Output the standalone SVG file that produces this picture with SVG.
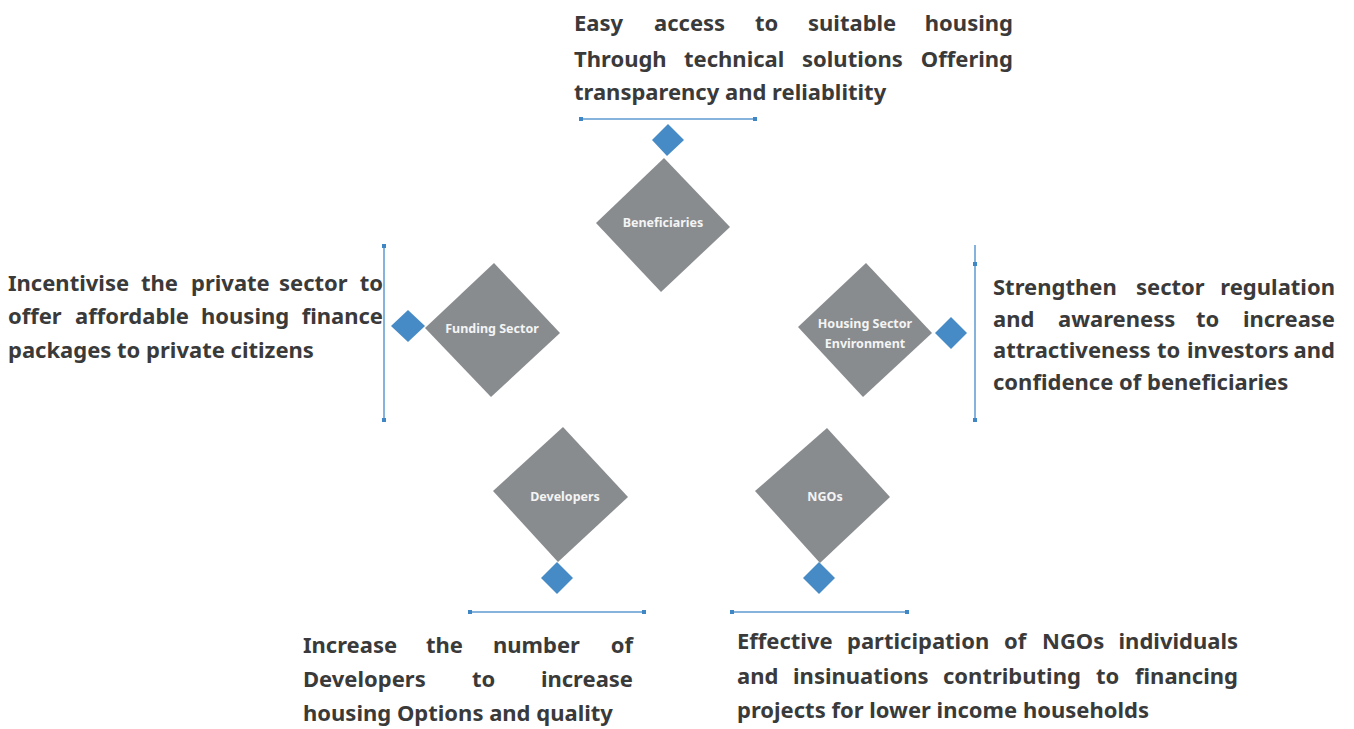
<svg xmlns="http://www.w3.org/2000/svg" width="1354" height="729" viewBox="0 0 1354 729">
<style>
  .node{fill:#898C8F}
  .knob{fill:#478BC6}
  .lbl{font-family:"Noto Sans","Open Sans","DejaVu Sans",sans-serif;font-weight:bold;font-size:12.5px;fill:#F4F4F4;text-anchor:middle}
  .txt{font-family:"Noto Sans","Open Sans","DejaVu Sans",sans-serif;font-weight:bold;font-size:22px;fill:#3A3A3A}
  .end{text-anchor:end}
  .bar{stroke:#86B3DC;stroke-width:2;fill:none}
  .sq{fill:#3F86C4}
</style>
<rect width="1354" height="729" fill="#FFFFFF"/>

<g id="connectors">
  <line class="bar" x1="581" y1="119" x2="755" y2="119"/>
  <rect class="sq" x="579" y="117" width="4" height="4"/>
  <rect class="sq" x="753" y="117" width="4" height="4"/>

  <line class="bar" x1="384" y1="246" x2="384" y2="420"/>
  <rect class="sq" x="382" y="244" width="4" height="4"/>
  <rect class="sq" x="382" y="418" width="4" height="4"/>

  <line class="bar" x1="975" y1="245" x2="975" y2="420"/>
  <rect class="sq" x="973" y="262" width="4" height="4"/>
  <rect class="sq" x="973" y="418" width="4" height="4"/>

  <line class="bar" x1="470" y1="612" x2="644" y2="612"/>
  <rect class="sq" x="468" y="610" width="4" height="4"/>
  <rect class="sq" x="642" y="610" width="4" height="4"/>

  <line class="bar" x1="732" y1="612" x2="907" y2="612"/>
  <rect class="sq" x="730" y="610" width="4" height="4"/>
  <rect class="sq" x="905" y="610" width="4" height="4"/>

  <polygon class="knob" points="668,124 684,140 667,156 652,140"/>
  <polygon class="knob" points="408,310 425,326 408,342 391,326"/>
  <polygon class="knob" points="951,317 967,333 951,349 935,333"/>
  <polygon class="knob" points="557,562 573,578 557,594 541,578"/>
  <polygon class="knob" points="819,562 835,578 819,594 803,578"/>
</g>

<g id="beneficiaries">
  <polygon class="node" points="664,158 730,227 661,292 596,223"/>
  <text class="lbl" x="663" y="227">Beneficiaries</text>
</g>

<g id="funding-sector">
  <polygon class="node" points="494,263 560,333 491,397 425,328"/>
  <text class="lbl" x="492" y="333">Funding Sector</text>
</g>

<g id="housing-sector-environment">
  <polygon class="node" points="866,263 932,333 863,397 798,327"/>
  <text class="lbl" x="865" y="328">Housing Sector</text>
  <text class="lbl" x="865" y="348">Environment</text>
</g>

<g id="developers">
  <polygon class="node" points="563,427 628,497 558,562 493,491"/>
  <text class="lbl" x="565" y="501">Developers</text>
</g>

<g id="ngos">
  <polygon class="node" points="827,428 890,497 820,563 755,491"/>
  <text class="lbl" x="825" y="501">NGOs</text>
</g>

<g id="text-beneficiaries">
  <text class="txt" y="31"><tspan x="574">Easy</tspan> <tspan x="654">access</tspan> <tspan x="755">to</tspan> <tspan x="808">suitable</tspan> <tspan class="end" x="1013">housing</tspan></text>
  <text class="txt" y="67"><tspan x="574">Through</tspan> <tspan x="684">technical</tspan> <tspan x="802">solutions</tspan> <tspan class="end" x="1013">Offering</tspan></text>
  <text class="txt" x="574" y="100">transparency and reliablitity</text>
</g>

<g id="text-funding">
  <text class="txt" y="291"><tspan x="8">Incentivise</tspan> <tspan x="141">the</tspan> <tspan x="191">private</tspan> <tspan x="279">sector</tspan> <tspan class="end" x="383">to</tspan></text>
  <text class="txt" y="324"><tspan x="8">offer</tspan> <tspan x="75">affordable</tspan> <tspan x="201">housing</tspan> <tspan class="end" x="383">finance</tspan></text>
  <text class="txt" x="8" y="358">packages to private citizens</text>
</g>

<g id="text-housing">
  <text class="txt" y="295"><tspan x="993">Strengthen</tspan> <tspan x="1136">sector</tspan> <tspan class="end" x="1335">regulation</tspan></text>
  <text class="txt" y="327"><tspan x="993">and</tspan> <tspan x="1058">awareness</tspan> <tspan x="1196">to</tspan> <tspan class="end" x="1335">increase</tspan></text>
  <text class="txt" y="358"><tspan x="993">attractiveness</tspan> <tspan x="1157">to</tspan> <tspan x="1187">investors</tspan> <tspan class="end" x="1335">and</tspan></text>
  <text class="txt" x="993" y="390">confidence of beneficiaries</text>
</g>

<g id="text-developers">
  <text class="txt" y="653"><tspan x="303">Increase</tspan> <tspan x="426">the</tspan> <tspan x="493">number</tspan> <tspan class="end" x="633">of</tspan></text>
  <text class="txt" y="687"><tspan x="303">Developers</tspan> <tspan x="472">to</tspan> <tspan class="end" x="633">increase</tspan></text>
  <text class="txt" x="303" y="721">housing Options and quality</text>
</g>

<g id="text-ngos">
  <text class="txt" y="649"><tspan x="737">Effective</tspan> <tspan x="847">participation</tspan> <tspan x="1004">of</tspan> <tspan x="1042">NGOs</tspan> <tspan class="end" x="1238">individuals</tspan></text>
  <text class="txt" y="684"><tspan x="737">and</tspan> <tspan x="793">insinuations</tspan> <tspan x="943">contributing</tspan> <tspan x="1096">to</tspan> <tspan class="end" x="1238">financing</tspan></text>
  <text class="txt" x="737" y="718">projects for lower income households</text>
</g>
</svg>
